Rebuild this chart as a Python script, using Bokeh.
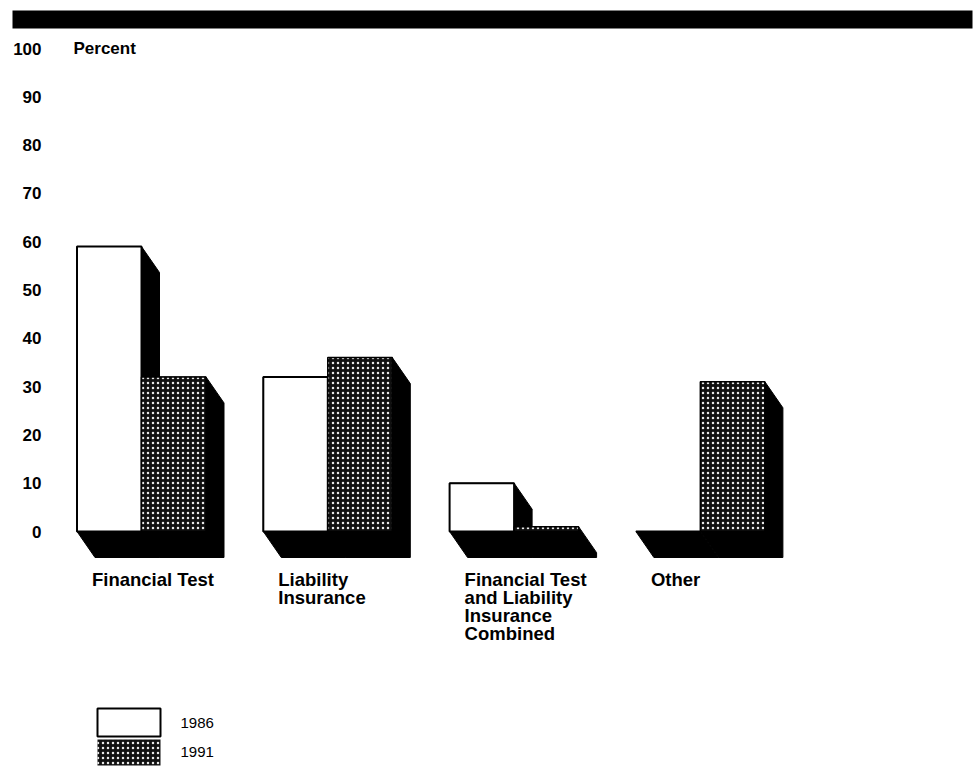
from bokeh.plotting import figure
from bokeh.models import Range1d
from bokeh.core.properties import value
from bokeh.embed import file_html
from bokeh.resources import INLINE

# Share of facilities by financial-assurance mechanism, 1986 vs 1991
categories = [
    "Financial Test",
    "Liability\nInsurance",
    "Financial Test\nand Liability\nInsurance\nCombined",
    "Other",
]
series = ["1986", "1991"]
pct_1986 = [59, 32, 10, 0]
pct_1991 = [32, 36, 1, 31]
y_ticks = [0, 10, 20, 30, 40, 50, 60, 70, 80, 90, 100]
y_title = "Percent"

# Page geometry (pixels)
W, H = 974, 777
PX_PER_GROUP = 186.3      # horizontal distance between category groups
PX_PER_PCT = 4.83         # vertical pixels per percentage point
X0_PX = 141               # boundary between the two bars of the first group
Y0_PX = 531               # baseline (0 percent)


def dx(px):
    return px / PX_PER_GROUP


def dy(px):
    return px / PX_PER_PCT


bar_w = dx(64.5)
depth_x = dx(18)
depth_y = dy(26)

FONT = value("Liberation Sans")

p = figure(
    width=W, height=H,
    x_range=Range1d(-X0_PX / PX_PER_GROUP, (W - X0_PX) / PX_PER_GROUP),
    y_range=Range1d(-(H - Y0_PX) / PX_PER_PCT, Y0_PX / PX_PER_PCT),
    output_backend="svg", toolbar_location=None,
    x_axis_location=None, y_axis_location=None,
    min_border=0, outline_line_color=None,
)
p.grid.visible = False
p.background_fill_color = "white"
p.border_fill_color = "white"

# Heavy rule across the top
p.quad(left=[dx(12 - X0_PX)], right=[dx(972 - X0_PX)],
       top=[dy(Y0_PX - 10)], bottom=[dy(Y0_PX - 28)],
       fill_color="black", line_color=None)

# Bar geometry
faces = {s: dict(left=[], right=[], top=[]) for s in series}
hull_xs, hull_ys = [], []
for i in range(len(categories)):
    for j, (s, vals) in enumerate(zip(series, [pct_1986, pct_1991])):
        x0 = i - bar_w + j * bar_w
        x1 = x0 + bar_w
        h = vals[i]
        faces[s]["left"].append(x0)
        faces[s]["right"].append(x1)
        faces[s]["top"].append(h)
        # extruded solid behind each face, pushed down and to the right
        hull_xs.append([x0, x0, x1, x1 + depth_x, x1 + depth_x, x0 + depth_x])
        hull_ys.append([0, h, h, h - depth_y, -depth_y, -depth_y])

p.patches(hull_xs, hull_ys, fill_color="black", line_color="black", line_width=1)

STIPPLE = dict(fill_color="#101010", hatch_pattern="dot", hatch_color="white",
               hatch_scale=5, hatch_weight=1, hatch_alpha=0.9)

f86 = faces["1986"]
p.quad(left=f86["left"], right=f86["right"], bottom=0, top=f86["top"],
       fill_color="white", line_color="black", line_width=2)
f91 = faces["1991"]
p.quad(left=f91["left"], right=f91["right"], bottom=0, top=f91["top"],
       line_color="black", line_width=1.5, **STIPPLE)

# Value axis labels
p.text(x=[dx(41 - X0_PX)] * len(y_ticks), y=y_ticks,
       text=[str(t) for t in y_ticks],
       text_align="right", text_baseline="middle",
       text_font=FONT, text_font_style="bold", text_font_size="17px",
       text_color="black")
p.text(x=[dx(73 - X0_PX)], y=[y_ticks[-1]], text=[y_title],
       text_align="left", text_baseline="middle",
       text_font=FONT, text_font_style="bold", text_font_size="17px",
       text_color="black")

# Category labels under each group
p.text(x=[i - bar_w + dx(15) for i in range(len(categories))],
       y=[-(depth_y + dy(11))] * len(categories),
       text=categories, text_align="left", text_baseline="top",
       text_font=FONT, text_font_style="bold", text_font_size="18.5px",
       text_line_height=0.87, text_color="black")

# Legend
leg_left, leg_right = dx(97 - X0_PX), dx(160 - X0_PX)
p.quad(left=[leg_left], right=[leg_right],
       top=[dy(Y0_PX - 708)], bottom=[dy(Y0_PX - 736)],
       fill_color="white", line_color="black", line_width=2)
p.quad(left=[leg_left], right=[leg_right],
       top=[dy(Y0_PX - 739)], bottom=[dy(Y0_PX - 765)],
       line_color=None, **STIPPLE)
p.text(x=[dx(180 - X0_PX)] * 2, y=[dy(Y0_PX - 722), dy(Y0_PX - 751)],
       text=series, text_align="left", text_baseline="middle",
       text_font=FONT, text_font_size="15px", text_color="black")

open("out.html", "w").write(file_html(p, INLINE))
